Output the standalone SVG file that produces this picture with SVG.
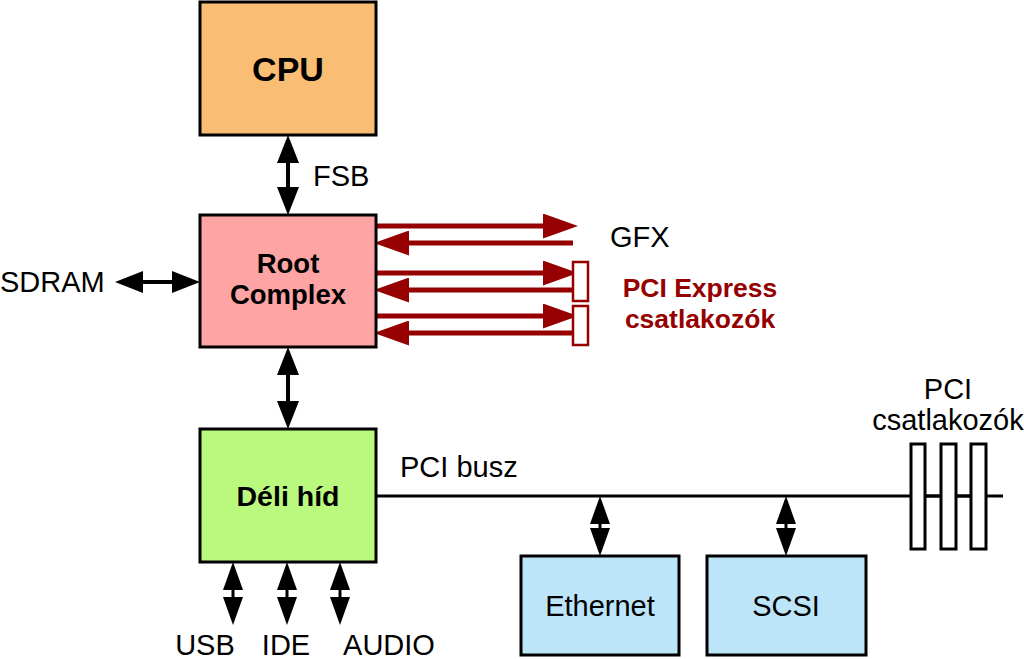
<svg xmlns="http://www.w3.org/2000/svg" width="1024" height="659" viewBox="0 0 1024 659">
<style>
.box{stroke:#000;stroke-width:3}
.t{font-family:"Liberation Sans",Arial,sans-serif;font-size:29px;fill:#000}
.b{font-weight:bold}
.red{fill:#960000}
.blk{stroke:#000;stroke-width:4;fill:none}
.sm{stroke:#000;stroke-width:3;fill:none}
.rd{stroke:#960000;stroke-width:5;fill:none}
.slot{fill:#fff;stroke:#000;stroke-width:3}
.pslot{fill:#fff;stroke:#960000;stroke-width:2.5}
</style>
<defs>
<marker id="ah" markerUnits="userSpaceOnUse" viewBox="0 0 28 22" markerWidth="28" markerHeight="22" refX="20" refY="11" orient="auto-start-reverse">
<path d="M0,0 L28,11 L0,22 z" fill="#000"/>
</marker>
<marker id="ahs" markerUnits="userSpaceOnUse" viewBox="0 0 28 20" markerWidth="28" markerHeight="20" refX="22" refY="10" orient="auto-start-reverse">
<path d="M0,0 L28,10 L0,20 z" fill="#000"/>
</marker>
<marker id="ahr" markerUnits="userSpaceOnUse" viewBox="0 0 35 25" markerWidth="35" markerHeight="25" refX="25" refY="12.5" orient="auto">
<path d="M0,0 L35,12.5 L0,25 z" fill="#960000"/>
</marker>
</defs>
<g id="connectors">
<line class="blk" x1="288" y1="143" x2="288" y2="207" marker-start="url(#ah)" marker-end="url(#ah)"/>
<line class="blk" x1="288" y1="355" x2="288" y2="421" marker-start="url(#ah)" marker-end="url(#ah)"/>
<line class="blk" x1="123" y1="282" x2="192" y2="282" marker-start="url(#ah)" marker-end="url(#ah)"/>
<line class="sm" x1="233" y1="568" x2="233" y2="619" marker-start="url(#ahs)" marker-end="url(#ahs)"/>
<line class="sm" x1="287" y1="568" x2="287" y2="619" marker-start="url(#ahs)" marker-end="url(#ahs)"/>
<line class="sm" x1="340" y1="568" x2="340" y2="619" marker-start="url(#ahs)" marker-end="url(#ahs)"/>
<line class="sm" x1="600" y1="502" x2="600" y2="550" marker-start="url(#ahs)" marker-end="url(#ahs)"/>
<line class="sm" x1="786" y1="502" x2="786" y2="550" marker-start="url(#ahs)" marker-end="url(#ahs)"/>
<line x1="376" y1="496" x2="1003" y2="496" stroke="#000" stroke-width="3"/>
<line class="rd" x1="376" y1="226" x2="568" y2="226" marker-end="url(#ahr)"/>
<line class="rd" x1="573" y1="243" x2="384" y2="243" marker-end="url(#ahr)"/>
<line class="rd" x1="376" y1="273" x2="568" y2="273" marker-end="url(#ahr)"/>
<line class="rd" x1="573" y1="290" x2="384" y2="290" marker-end="url(#ahr)"/>
<line class="rd" x1="376" y1="316" x2="568" y2="316" marker-end="url(#ahr)"/>
<line class="rd" x1="573" y1="333" x2="384" y2="333" marker-end="url(#ahr)"/>
</g>
<g id="cpu">
<rect class="box" x="200" y="2" width="176" height="133" fill="#F9BE73"/>
<text class="t b" x="288" y="81" text-anchor="middle" style="font-size:34px">CPU</text>
</g>
<text class="t" x="313" y="186">FSB</text>
<g id="root">
<rect class="box" x="200" y="215" width="176" height="132" fill="#FFA4A4"/>
<text class="t b" x="288" y="273" text-anchor="middle" style="font-size:27.5px">Root</text>
<text class="t b" x="288" y="304" text-anchor="middle" style="font-size:27.5px">Complex</text>
</g>
<g id="sdram"><text class="t" x="0" y="292">SDRAM</text></g>
<g id="gfx"><text class="t" x="610" y="247">GFX</text></g>
<g id="pcie">
<rect class="pslot" x="573" y="262" width="15" height="39"/>
<rect class="pslot" x="573" y="306" width="15" height="39"/>
<text class="t b red" x="700" y="297" text-anchor="middle" style="font-size:26.5px">PCI Express</text>
<text class="t b red" x="700" y="328" text-anchor="middle" style="font-size:26.5px">csatlakozók</text>
</g>
<g id="deli">
<rect class="box" x="200" y="429" width="176" height="133" fill="#BAF97D"/>
<text class="t b" x="288" y="506" text-anchor="middle" style="font-size:28.5px">Déli híd</text>
</g>
<text class="t" x="400" y="477">PCI busz</text>
<g id="ethernet">
<rect class="box" x="521" y="556" width="158" height="99" fill="#BDE5FA"/>
<text class="t" x="600" y="616" text-anchor="middle">Ethernet</text>
</g>
<g id="scsi">
<rect class="box" x="707" y="556" width="159" height="99" fill="#BDE5FA"/>
<text class="t" x="786" y="616" text-anchor="middle">SCSI</text>
</g>
<g id="pcislots">
<rect class="slot" x="911" y="444" width="14" height="105"/>
<rect class="slot" x="941" y="444" width="15" height="105"/>
<rect class="slot" x="971" y="444" width="15" height="105"/>
<line x1="925" y1="496" x2="941" y2="496" stroke="#000" stroke-width="3"/>
<line x1="956" y1="496" x2="971" y2="496" stroke="#000" stroke-width="3"/>
<text class="t" x="948" y="399" text-anchor="middle">PCI</text>
<text class="t" x="948" y="430" text-anchor="middle">csatlakozók</text>
</g>
<g id="usb"><text class="t" x="205" y="655" text-anchor="middle">USB</text></g>
<g id="ide"><text class="t" x="286" y="655" text-anchor="middle">IDE</text></g>
<g id="audio"><text class="t" x="389" y="655" text-anchor="middle">AUDIO</text></g>
</svg>
